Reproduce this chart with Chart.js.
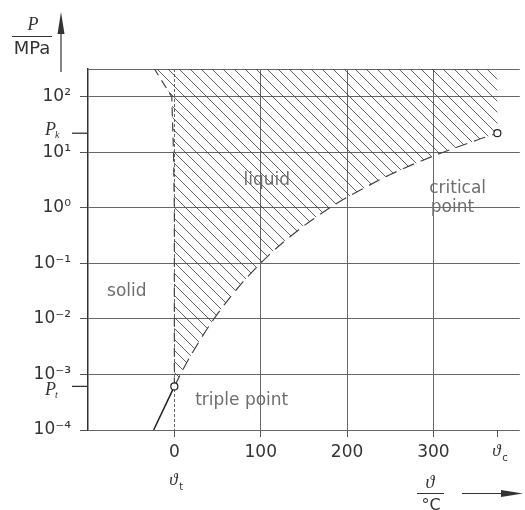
<!DOCTYPE html>
<html>
<head>
<meta charset="utf-8">
<script src="https://cdn.jsdelivr.net/npm/chart.js@4.4.0/dist/chart.umd.min.js"></script>
<style>
  html, body { margin: 0; background: #fff; }
  #wrap { width: 525px; height: 510px; }
</style>
</head>
<body>
<div id="wrap"><canvas id="phaseChart"></canvas></div>
<script>
// boiling curve, triple point -> critical point (°C, MPa)
const vapourT = [0.01, 10, 20, 40, 60, 80, 100, 120, 150, 180, 200, 250, 300, 350, 374];
const vapourP = [6.1e-4, 1.23e-3, 2.34e-3, 7.4e-3, 0.0199, 0.0474, 0.101, 0.199, 0.476, 1.0, 1.55, 3.98, 8.59, 16.5, 22.06];

// melting curve, triple point -> top of the plot
const meltT = [0.01, 0, -1, -3, -23];
const meltP = [6.1e-4, 1, 10, 100, 316.2];

// sublimation curve below the triple point
const sublT = [-24, 0.01];
const sublP = [1e-4, 6.1e-4];

const tripleT = 0.01, tripleP = 6.1e-4;
const critT = 374, critP = 22.06;

const xMin = -100, xMax = 400;
const yMin = 1e-4, yMax = 316.2278;

const xTicks = [-100, 0, 100, 200, 300, 374];
const xTickLabels = ['', '0', '100', '200', '300', ''];
const yTicks = [1e-4, 1e-3, 1e-2, 1e-1, 1, 10, 100, yMax];
const yTickLabels = ['10⁻⁴', '10⁻³', '10⁻²', '10⁻¹', '10⁰', '10¹', '10²', ''];

const regionLabels = ['liquid', 'solid', 'critical', 'point', 'triple point'];
const regionLabelT = [107, -55, 328, 322, 78];
const regionLabelP = [3.06, 0.031, 2.19, 1.0, 3.4e-4];

function pts(xs, ys) {
  return xs.map((x, i) => ({ x, y: ys[i] }));
}

function hatchPattern() {
  const size = 11;
  const c = document.createElement('canvas');
  c.width = c.height = size;
  const g = c.getContext('2d');
  g.strokeStyle = 'rgba(60,60,60,0.8)';
  g.lineWidth = 1;
  g.beginPath();
  g.moveTo(0, 0); g.lineTo(size, size);
  g.moveTo(-2, size - 2); g.lineTo(2, size + 2);
  g.moveTo(size - 2, -2); g.lineTo(size + 2, 2);
  g.stroke();
  return g.createPattern(c, 'repeat');
}

// closed outline of the liquid field
const liquidRegion = pts(meltT, meltP).reverse()
  .concat(pts(vapourT, vapourP).slice(1))
  .concat([{ x: critT, y: yMax }]);

function drawArrowUp(ctx, x, yTop, yBottom) {
  ctx.beginPath();
  ctx.moveTo(x, yBottom); ctx.lineTo(x, yTop + 18);
  ctx.stroke();
  ctx.beginPath();
  ctx.moveTo(x, yTop); ctx.lineTo(x - 3.5, yTop + 22); ctx.lineTo(x + 3.5, yTop + 22);
  ctx.closePath(); ctx.fill();
}

function drawArrowRight(ctx, xLeft, xRight, y) {
  ctx.beginPath();
  ctx.moveTo(xLeft, y); ctx.lineTo(xRight - 18, y);
  ctx.stroke();
  ctx.beginPath();
  ctx.moveTo(xRight, y); ctx.lineTo(xRight - 22, y - 3.5); ctx.lineTo(xRight - 22, y + 3.5);
  ctx.closePath(); ctx.fill();
}

const paperText = {
  id: 'paperText',
  afterDraw(chart) {
    const { ctx, scales: { x, y } } = chart;
    ctx.save();

    // field labels
    ctx.fillStyle = '#6e6e6e';
    ctx.font = '17px "DejaVu Sans"';
    ctx.textAlign = 'center';
    ctx.textBaseline = 'middle';
    regionLabels.forEach((t, i) => {
      ctx.fillText(t, x.getPixelForValue(regionLabelT[i]), y.getPixelForValue(regionLabelP[i]));
    });

    ctx.fillStyle = '#333';
    ctx.strokeStyle = '#333';
    ctx.lineWidth = 1.3;

    // P_k and P_t marks on the pressure axis
    const left = chart.chartArea.left;
    [[critP, 'k', -3], [tripleP, 't', 4]].forEach(([p, sub, dy]) => {
      const py = y.getPixelForValue(p);
      ctx.beginPath();
      ctx.moveTo(left - 16, py); ctx.lineTo(left, py);
      ctx.stroke();
      ctx.font = 'italic 18px "Liberation Serif"';
      ctx.textAlign = 'right';
      ctx.fillText('P', 56, py + dy);
      ctx.font = 'italic 10px "Liberation Serif"';
      ctx.textAlign = 'left';
      ctx.fillText(sub, 55, py + dy + 5);
    });

    // theta_t and theta_c under the temperature axis
    [[tripleT, 't', 481], [critT, 'c', 452]].forEach(([t, sub, py]) => {
      const px = x.getPixelForValue(t);
      ctx.font = 'italic 17px "Liberation Serif"';
      ctx.textAlign = 'center';
      ctx.fillText('ϑ', px - 1, py);
      ctx.font = '10px "DejaVu Sans"';
      ctx.textAlign = 'left';
      ctx.fillText(sub, px + 5, py + 6);
    });

    // pressure axis title P / MPa with arrow
    ctx.textAlign = 'center';
    ctx.font = 'italic 18px "Liberation Serif"';
    ctx.fillText('P', 33, 25);
    ctx.lineWidth = 1;
    ctx.beginPath(); ctx.moveTo(12, 36.5); ctx.lineTo(52, 36.5); ctx.stroke();
    ctx.font = '18px "DejaVu Sans"';
    ctx.fillText('MPa', 32, 49);
    ctx.lineWidth = 1.2;
    drawArrowUp(ctx, 61, 12, 72);

    // temperature axis title ϑ / °C with arrow
    ctx.font = 'italic 18px "Liberation Serif"';
    ctx.fillText('ϑ', 430, 483);
    ctx.lineWidth = 1;
    ctx.beginPath(); ctx.moveTo(417, 493.5); ctx.lineTo(444, 493.5); ctx.stroke();
    ctx.font = '16px "DejaVu Sans"';
    ctx.fillText('°C', 431, 506);
    ctx.lineWidth = 1.2;
    drawArrowRight(ctx, 462, 523, 493.5);

    ctx.restore();
  }
};

window.addEventListener('DOMContentLoaded', () => {
  const ctx = document.getElementById('phaseChart').getContext('2d');
  new Chart(ctx, {
    type: 'scatter',
    data: {
      datasets: [
        {
          data: liquidRegion,
          showLine: true,
          fill: 'shape',
          backgroundColor: hatchPattern(),
          borderWidth: 0,
          pointRadius: 0,
          order: 5,
        },
        {
          data: pts(vapourT, vapourP),
          showLine: true,
          borderColor: '#444',
          borderWidth: 1.2,
          borderDash: [12, 7],
          pointRadius: 0,
          tension: 0.3,
          order: 3,
        },
        {
          data: pts(meltT, meltP),
          showLine: true,
          borderColor: '#444',
          borderWidth: 1.2,
          borderDash: [9, 6],
          pointRadius: 0,
          order: 3,
        },
        {
          data: pts(sublT, sublP),
          showLine: true,
          borderColor: '#222',
          borderWidth: 1.5,
          pointRadius: 0,
          order: 2,
        },
        {
          data: [{ x: tripleT, y: tripleP }, { x: critT, y: critP }],
          showLine: false,
          pointRadius: 3.5,
          pointBackgroundColor: '#fff',
          pointBorderColor: '#222',
          pointBorderWidth: 1.2,
          order: 1,
          clip: false,
        },
      ]
    },
    options: {
      responsive: true,
      maintainAspectRatio: false,
      animation: false,
      layout: { padding: { top: 69, right: 1, left: 0, bottom: 0 } },
      plugins: { legend: { display: false }, tooltip: { enabled: false } },
      scales: {
        x: {
          type: 'linear',
          min: xMin,
          max: xMax,
          afterBuildTicks: scale => { scale.ticks = xTicks.map(v => ({ value: v })); },
          afterFit: scale => { scale.height = 80; },
          ticks: {
            autoSkip: false,
            maxRotation: 0,
            padding: 5,
            color: '#333',
            font: { family: 'DejaVu Sans', size: 17 },
            callback: (v, i) => xTickLabels[i],
          },
          grid: {
            color: c => (c.tick && (c.tick.value === -100 || c.tick.value === 374)) ? 'rgba(0,0,0,0)' : '#666',
            tickColor: c => (c.tick && c.tick.value === -100) ? 'rgba(0,0,0,0)' : '#555',
            lineWidth: 1,
            tickLength: 7,
          },
          border: {
            display: false,
            dash: c => (c.tick && c.tick.value === 0) ? [3, 2] : [],
          },
        },
        y: {
          type: 'logarithmic',
          min: yMin,
          max: yMax,
          afterBuildTicks: scale => { scale.ticks = yTicks.map(v => ({ value: v })); },
          afterFit: scale => { scale.width = 88; },
          ticks: {
            autoSkip: false,
            padding: 9,
            color: '#333',
            font: { family: 'DejaVu Sans', size: 17 },
            callback: (v, i) => yTickLabels[i],
          },
          grid: {
            color: '#666',
            lineWidth: 1,
            tickLength: 8,
            tickColor: c => (c.tick && c.tick.value > 200) ? 'rgba(0,0,0,0)' : '#555',
          },
          border: { display: true, color: '#333', width: 1.5 },
        }
      }
    },
    plugins: [paperText]
  });
});
</script>
</body>
</html>
